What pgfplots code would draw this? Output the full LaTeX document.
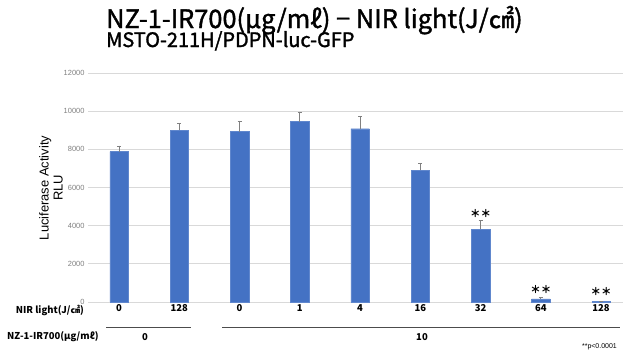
\documentclass[border=0pt]{standalone}
\usepackage{fontspec}
\setmainfont{Liberation Sans}
\newfontfamily\jp{Noto Sans CJK JP}
\newfontfamily\jpmed[FakeBold=1.5]{Noto Sans CJK JP}
\usepackage{pgfplots}
\pgfplotsset{compat=1.18}
\definecolor{barblue}{HTML}{4472C4}
\definecolor{gridgray}{HTML}{D9D9D9}
\definecolor{tickgray}{HTML}{7F7F7F}
\definecolor{errgray}{HTML}{808080}
\begin{document}
\begin{tikzpicture}[x=1bp,y=1bp]
\useasboundingbox (0,0) rectangle (624,-354);
\begin{axis}[
  at={(88bp,-302bp)}, anchor=south west,
  scale only axis, width=535bp, height=229bp,
  xmin=-0.515, xmax=8.365, ymin=0, ymax=12000,
  axis x line*=bottom, axis y line*=left,
  y axis line style={draw=none},
  x axis line style={draw=gridgray, line width=0.9pt},
  ytick={0,2000,4000,6000,8000,10000,12000},
  ymajorgrids, grid style={draw=gridgray, line width=0.9pt},
  scaled y ticks=false,
  yticklabel style={font=\fontsize{7.5}{8}\selectfont, color=tickgray, /pgf/number format/1000 sep={}, /pgf/number format/assume math mode=true},
  major tick length=0pt,
  xtick={0,1,2,3,4,5,6,7,8},
  xticklabels={0,128,0,1,4,16,32,64,128},
  xticklabel style={font=\jp\bfseries\fontsize{9.5}{10}\selectfont, yshift=1bp},
  clip=false,
]
\addplot[ybar, bar width=18.5bp, fill=barblue, draw=barblue!85!white,
  error bars/.cd, y dir=plus, y explicit,
  error bar style={draw=errgray, line width=0.6pt},
  error mark options={rotate=90, mark size=2bp, draw=errgray}]
coordinates {
 (0,7880) +- (0,310)
 (1,9000) +- (0,370)
 (2,8930) +- (0,560)
 (3,9450) +- (0,510)
 (4,9080) +- (0,660)
 (5,6900) +- (0,350)
 (6,3810) +- (0,470)
 (7,170) +- (0,75)
 (8,20) +- (0,30)
};
\addplot[draw=none, mark=none, nodes near coords, point meta=explicit symbolic,
  nodes near coords style={font=\jp\bfseries\fontsize{10.5}{10}\selectfont, anchor=center, inner sep=0pt}]
coordinates {(6,4612)[＊＊] (7,630)[＊＊] (8,525)[＊＊]};
\end{axis}
\node[anchor=base west, inner sep=0pt, font=\jpmed\fontsize{25.5}{26}\selectfont] at (106,-28) {NZ-1-IR700(μg/mℓ) − NIR light(J/㎠)};
\node[anchor=base west, inner sep=0pt, font=\jpmed\fontsize{20}{21}\selectfont] at (106,-47) {MSTO-211H/PDPN-luc-GFP};
\node[rotate=90, align=center, font=\fontsize{13}{14}\selectfont, inner sep=0pt] at (51,-188) {Luciferase Activity\\RLU};
\node[anchor=east, inner sep=0pt, font=\jp\bfseries\fontsize{9.5}{10}\selectfont] at (84,-310) {NIR light(J/㎠)};
\node[anchor=west, inner sep=0pt, font=\jp\bfseries\fontsize{9.5}{10}\selectfont] at (7,-337) {NZ-1-IR700(μg/mℓ)};
\draw[line width=0.9pt, draw=black!70] (106,-327) -- (191,-327);
\draw[line width=0.9pt, draw=black!70] (222,-327) -- (620,-327);
\node[inner sep=0pt, font=\jp\bfseries\fontsize{9.5}{10}\selectfont] at (145,-337) {0};
\node[inner sep=0pt, font=\jp\bfseries\fontsize{9.5}{10}\selectfont] at (422,-337) {10};
\node[anchor=east, inner sep=0pt, font=\fontsize{7}{8}\selectfont] at (617,-347) {**p<0.0001};
\end{tikzpicture}
\end{document}
